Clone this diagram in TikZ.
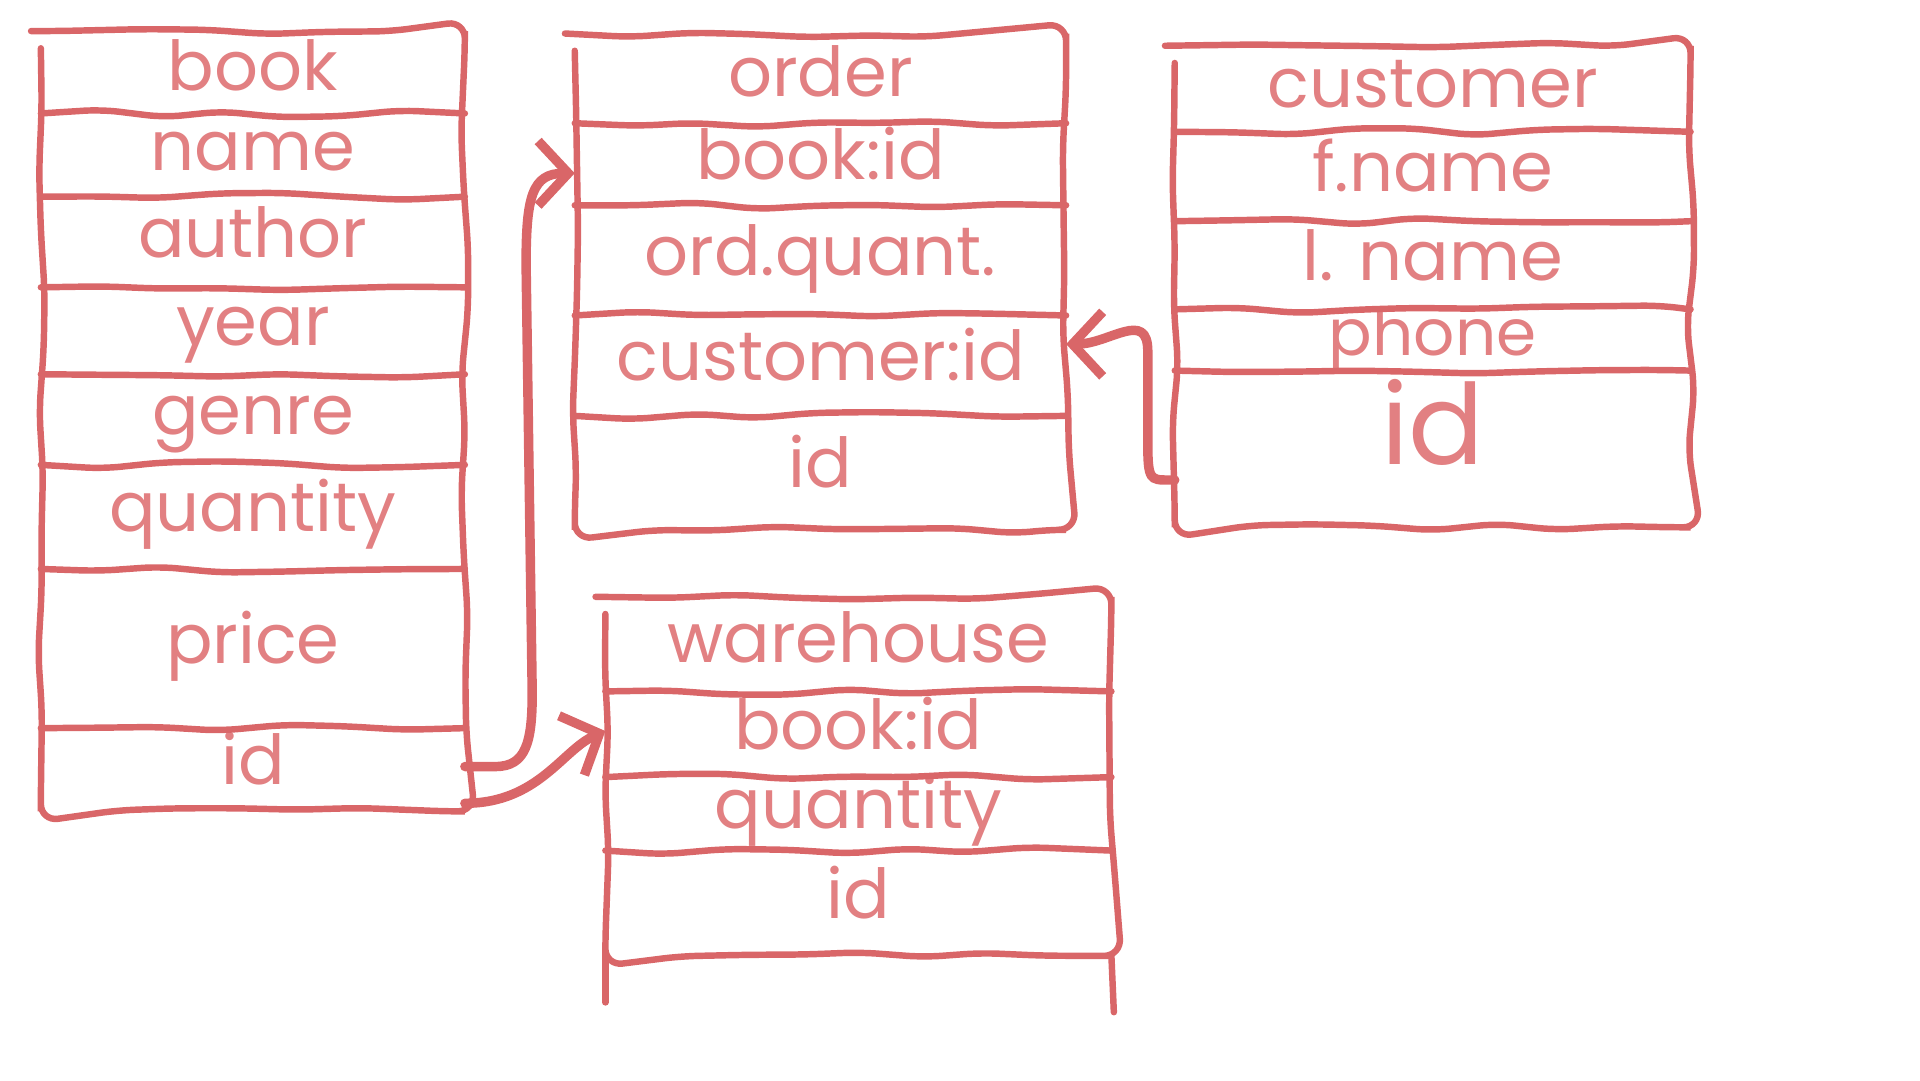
\documentclass[tikz,border=0pt]{standalone}
\usepackage{fontspec}
\newfontfamily\handfont{Poppins}
\usetikzlibrary{arrows.meta,decorations.pathmorphing,positioning}
\definecolor{pen}{RGB}{217,102,104}
\definecolor{ink}{RGB}{226,128,130}

\begin{document}
\begin{tikzpicture}[>={Straight Barb[length=7pt,width=15pt]},line width=1.5pt,
  sketch/.style={draw=pen,line cap=round,rounded corners=4pt,decorate,
    decoration={random steps,segment length=14pt,amplitude=0.9pt}},
  field/.style={inner sep=0pt,text=ink,text height=0.85em,text depth=0pt,
    font=\handfont\fontsize{16}{18}\selectfont},
  bookrow/.style={field,minimum width=3.41cm},
  orderrow/.style={field,minimum width=3.96cm},
  custrow/.style={field,minimum width=4.16cm},
  storerow/.style={field,minimum width=4.08cm},
  link/.style={->,draw=pen,line width=2.2pt,line cap=round}]
  \useasboundingbox (0,0) rectangle (15.68,8.82);
  \pgfmathsetseed{7}

  % book
  \node[bookrow,minimum height=0.62cm] at (2.065,8.23) (b1) {book};
  \node[bookrow,minimum height=0.68cm] at (2.065,7.58) (b2) {name};
  \node[bookrow,minimum height=0.74cm] at (2.065,6.87) (b3) {author};
  \node[bookrow,minimum height=0.71cm] at (2.065,6.145) (b4) {year};
  \node[bookrow,minimum height=0.74cm] at (2.065,5.42) (b5) {genre};
  \node[bookrow,minimum height=0.85cm] at (2.065,4.625) (b6) {quantity};
  \node[bookrow,minimum height=1.30cm] at (2.065,3.55) (b7) {price};
  \node[bookrow,minimum height=0.68cm] at (2.065,2.56) (b8) {id};

  % order
  \node[orderrow,minimum height=0.68cm] at (6.70,8.18) (o1) {order};
  \node[orderrow,minimum height=0.67cm] at (6.70,7.505) (o2) {book:id};
  \node[orderrow,minimum height=0.90cm] at (6.70,6.72) (o3) {ord.quant.};
  \node[orderrow,minimum height=0.82cm] at (6.70,5.86) (o4) {customer:id};
  \node[orderrow,minimum height=0.93cm] at (6.70,4.985) (o5) {id};

  % customer
  \node[custrow,minimum height=0.65cm] at (11.70,8.095) (c1) {customer};
  \node[custrow,minimum height=0.73cm] at (11.70,7.405) (c2) {f.name};
  \node[custrow,minimum height=0.72cm] at (11.70,6.68) (c3) {l. name};
  \node[custrow,minimum height=0.50cm,font=\handfont\fontsize{15}{17}\selectfont] at (11.70,6.07) (c4) {phone};
  \node[custrow,minimum height=1.28cm,font=\handfont\fontsize{26}{28}\selectfont] at (11.70,5.18) (c5) {id};

  % warehouse
  \node[storerow,minimum height=0.72cm] at (7.01,3.56) (w1) {warehouse};
  \node[storerow,minimum height=0.70cm] at (7.01,2.85) (w2) {book:id};
  \node[storerow,minimum height=0.60cm] at (7.01,2.20) (w3) {quantity};
  \node[storerow,minimum height=0.86cm] at (7.01,1.47) (w4) {id};

  % table outlines
  \draw[sketch] (b1.north west) rectangle (b8.south east);
  \foreach \i in {1,...,7}
    \draw[sketch] (b\i.south west) -- (b\i.south east);
  \draw[sketch] (o1.north west) rectangle (o5.south east);
  \foreach \i in {1,...,4}
    \draw[sketch] (o\i.south west) -- (o\i.south east);
  \draw[sketch] (c1.north west) rectangle (c5.south east);
  \foreach \i in {1,...,4}
    \draw[sketch] (c\i.south west) -- (c\i.south east);
  \draw[sketch] (w1.north west) rectangle (w4.south east);
  \foreach \i in {1,...,3}
    \draw[sketch] (w\i.south west) -- (w\i.south east);
  \draw[sketch] (w4.south west) -- ++(0,-0.38);
  \draw[sketch] (w4.south east) -- ++(0.02,-0.46);

  % keys
  \draw[link] (b8.east) -- ++(0.25,0) .. controls +(0.25,0) and +(0,-0.4) .. ++(0.3,0.6)
    -- ++(-0.05,3.5) .. controls +(0,0.55) and +(-0.35,0) .. ([yshift=-0.1cm]o2.west);
  \draw[link] ([yshift=-0.3cm]b8.east) .. controls +(0.6,0) and +(-0.35,-0.15) .. (w2.west);
  \draw[link] ([yshift=-0.28cm]c5.west) -- ++(-0.05,0) .. controls +(-0.15,0) and +(0,-0.3) .. ++(-0.17,0.3)
    -- ++(0,0.75) .. controls +(0,0.35) and +(0.35,0) .. ([yshift=0.15cm]o4.east);
\end{tikzpicture}
\end{document}
